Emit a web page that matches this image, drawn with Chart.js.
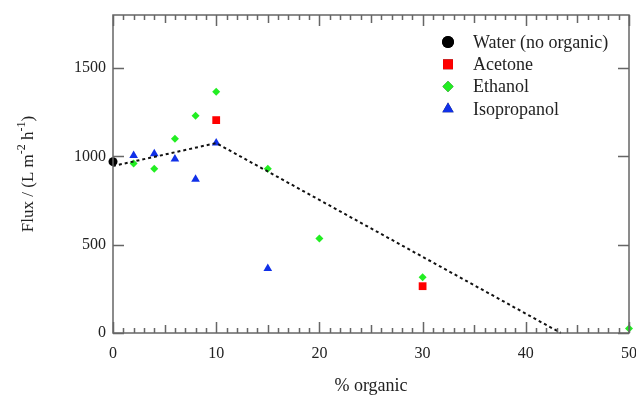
<!DOCTYPE html>
<html lang="en">
<head>
<meta charset="UTF-8" />
<title>Flux vs % organic</title>
<script src="https://cdn.jsdelivr.net/npm/chart.js"></script>
<style>
  html, body { margin: 0; padding: 0; background: #fff; }
  #wrap { width: 636px; height: 399px; }
</style>
</head>
<body>
<div id="wrap"><canvas id="myChart" width="636" height="399"></canvas></div>
<script>
// values
const waterX = [0];
const waterY = [970];
const acetoneX = [10, 30];
const acetoneY = [1205, 265];
const ethanolX = [2, 4, 6, 8, 10, 15, 20, 30, 50];
const ethanolY = [960, 930, 1100, 1230, 1365, 930, 535, 315, 25];
const isoX = [2, 4, 6, 8, 10, 15];
const isoY = [1005, 1015, 985, 870, 1075, 365];
const trendX = [0, 10, 43.4];
const trendY = [945, 1075, 0];
const xTicks = [0, 10, 20, 30, 40, 50];
const yTicks = [0, 500, 1000, 1500];

const pts = (xs, ys) => xs.map((x, i) => ({ x: x, y: ys[i] }));
const FONT = "'Liberation Serif', 'DejaVu Serif', serif";
const AXIS = '#666';
const TXT = '#222';

// inward ticks on all four sides + frame
const frame = {
  id: 'frame',
  afterDatasetsDraw(chart) {
    const { ctx, chartArea: a, scales: { x, y } } = chart;
    ctx.save();
    ctx.strokeStyle = AXIS;
    ctx.lineWidth = 1.5;
    ctx.strokeRect(a.left, a.top, a.right - a.left, a.bottom - a.top);
    ctx.beginPath();
    for (let v = 0; v <= 50; v++) {
      const px = Math.round(x.getPixelForValue(v)) + 0.5;
      const len = v % 10 === 0 ? 11 : (v % 5 === 0 ? 8 : 5);
      ctx.moveTo(px, a.bottom); ctx.lineTo(px, a.bottom - len);
      ctx.moveTo(px, a.top); ctx.lineTo(px, a.top + len);
    }
    yTicks.forEach(v => {
      const py = Math.round(y.getPixelForValue(v)) + 0.5;
      ctx.moveTo(a.left, py); ctx.lineTo(a.left + 11, py);
      ctx.moveTo(a.right, py); ctx.lineTo(a.right - 11, py);
    });
    ctx.stroke();
    ctx.restore();
  }
};

// y title with superscripts
const yTitle = {
  id: 'yTitle',
  afterDraw(chart) {
    const { ctx, chartArea: a } = chart;
    const parts = [['Flux / (L m', 0], ['-2', 1], [' h', 0], ['-1', 1], [')', 0]];
    ctx.save();
    ctx.fillStyle = TXT;
    ctx.textBaseline = 'alphabetic';
    const big = '17px ' + FONT, small = '12px ' + FONT;
    let w = 0;
    parts.forEach(([t, s]) => { ctx.font = s ? small : big; w += ctx.measureText(t).width; });
    ctx.translate(33, (a.top + a.bottom) / 2);
    ctx.rotate(-Math.PI / 2);
    let cx = -w / 2;
    parts.forEach(([t, s]) => {
      ctx.font = s ? small : big;
      ctx.fillText(t, cx, s ? -8 : 0);
      cx += ctx.measureText(t).width;
    });
    ctx.restore();
  }
};

// legend inside the plot, top right
const legendBox = {
  id: 'legendBox',
  afterDraw(chart) {
    const { ctx } = chart;
    ctx.save();
    ctx.font = '18px ' + FONT;
    ctx.textBaseline = 'middle';
    const items = chart.data.datasets.filter(d => d.label);
    items.forEach((d, i) => {
      const yy = 42 + i * 22.3;
      Chart.helpers.drawPoint(ctx, {
        pointStyle: d.pointStyle,
        radius: d.legendRadius,
        borderWidth: 0
      }, 448, yy);
      ctx.fillStyle = d.backgroundColor;
      ctx.fill();
      ctx.fillStyle = TXT;
      ctx.fillText(d.label, 473, yy + 1);
    });
    ctx.restore();
  }
};

const mk = (label, data, color, style, r, lr) => ({
  label: label, data: data, backgroundColor: color, borderColor: color,
  pointStyle: style, pointRadius: r, pointHoverRadius: r, borderWidth: 0,
  showLine: false, legendRadius: lr
});

const config = {
  type: 'scatter',
  data: {
    datasets: [
      {
        data: pts(trendX, trendY), showLine: true, borderColor: '#111',
        borderWidth: 2, borderDash: [3, 3], pointRadius: 0, fill: false
      },
      mk('Water (no organic)', pts(waterX, waterY), '#000000', 'circle', 4.5, 6),
      mk('Acetone', pts(acetoneX, acetoneY), '#ff0000', 'rect', 5.5, 7),
      mk('Ethanol', pts(ethanolX, ethanolY), '#22ee22', 'rectRot', 4, 5.5),
      mk('Isopropanol', pts(isoX, isoY), '#1030e8', 'triangle', 5, 6.5)
    ]
  },
  options: {
    responsive: false,
    animation: false,
    clip: false,
    layout: { padding: { left: 0, right: 7, top: 15, bottom: 0 } },
    plugins: { legend: { display: false }, tooltip: { enabled: false } },
    scales: {
      x: {
        type: 'linear', min: 0, max: 50,
        afterFit: s => { s.height = 66; s.paddingLeft = 0; s.paddingRight = 0; },
        afterBuildTicks: s => { s.ticks = xTicks.map(v => ({ value: v })); },
        grid: { drawOnChartArea: false, drawTicks: false },
        border: { display: false },
        ticks: {
          padding: 11, color: TXT, font: { family: FONT, size: 16 },
          callback: v => String(v)
        },
        title: {
          display: true, text: '% organic', color: TXT,
          font: { family: FONT, size: 18 }, padding: { top: 0, bottom: 2 }
        }
      },
      y: {
        type: 'linear', min: 0, max: 1800,
        afterFit: s => { s.width = 113; s.paddingTop = 0; s.paddingBottom = 0; },
        afterBuildTicks: s => { s.ticks = yTicks.map(v => ({ value: v })); },
        grid: { drawOnChartArea: false, drawTicks: false },
        border: { display: false },
        ticks: {
          padding: 7, color: TXT, font: { family: FONT, size: 16 },
          callback: v => String(v)
        }
      }
    }
  },
  plugins: [frame, yTitle, legendBox]
};

const myChart = new Chart(document.getElementById('myChart'), config);
</script>
</body>
</html>
